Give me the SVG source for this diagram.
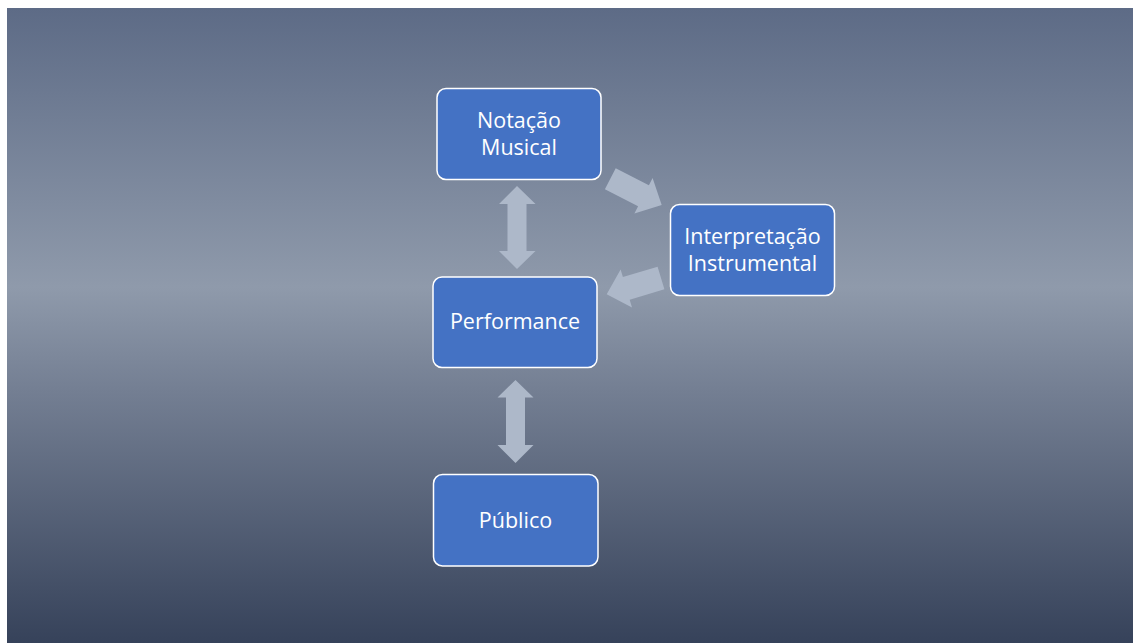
<svg xmlns="http://www.w3.org/2000/svg" width="1133" height="643" viewBox="0 0 1133 643">
<defs>
<linearGradient id="bg" x1="0" y1="0" x2="0" y2="1">
<stop offset="0" stop-color="#5d6b86"/>
<stop offset="0.44" stop-color="#8f9aab"/>
<stop offset="0.6" stop-color="#747f93"/>
<stop offset="1" stop-color="#36425a"/>
</linearGradient>
</defs>
<style>
.box{fill:#4472c4;stroke:#ffffff;stroke-width:1.5}
.lbl{font-family:"Open Sans","Noto Sans","Liberation Sans",sans-serif;font-size:21.5px;fill:#ffffff;text-anchor:middle}
.arr{fill:#adb8c9}
</style>
<rect x="0" y="0" width="1133" height="643" fill="#ffffff"/>
<rect x="7" y="8" width="1126" height="635" fill="url(#bg)"/>
<g id="connectors">
<polygon class="arr" points="517,186 535.5,204 526.5,204 526.5,251 535.5,251 517,269 499,251 507.5,251 507.5,204 499,204"/>
<polygon class="arr" points="515.5,380 533.5,397.5 525,397.5 525,445 533.5,445 515.5,463 497.5,445 506,445 506,397.5 497.5,397.5"/>
<polygon class="arr" points="615.7,168.3 648.9,185.2 652.6,177.9 661.7,205 634.4,213.5 638.1,206.2 604.9,189.3"/>
<polygon class="arr" points="657.6,266.7 622.9,277.1 620.6,269.4 606.7,294.3 632,307.4 629.7,299.7 664.4,289.3"/>
</g>
<g id="node-notacao">
<rect class="box" x="437" y="88.5" width="164" height="91" rx="9"/>
<text class="lbl" x="519" y="128">Notação</text>
<text class="lbl" x="519" y="154.5">Musical</text>
</g>
<g id="node-interpretacao">
<rect class="box" x="670.5" y="204.5" width="164" height="91" rx="9"/>
<text class="lbl" x="752.5" y="243.5">Interpretação</text>
<text class="lbl" x="752.5" y="270.5">Instrumental</text>
</g>
<g id="node-performance">
<rect class="box" x="433" y="277" width="164" height="90.5" rx="9"/>
<text class="lbl" x="515" y="328.5">Performance</text>
</g>
<g id="node-publico">
<rect class="box" x="433.5" y="474.5" width="164.5" height="91.5" rx="9"/>
<text class="lbl" x="515.5" y="527.5">Público</text>
</g>
</svg>
